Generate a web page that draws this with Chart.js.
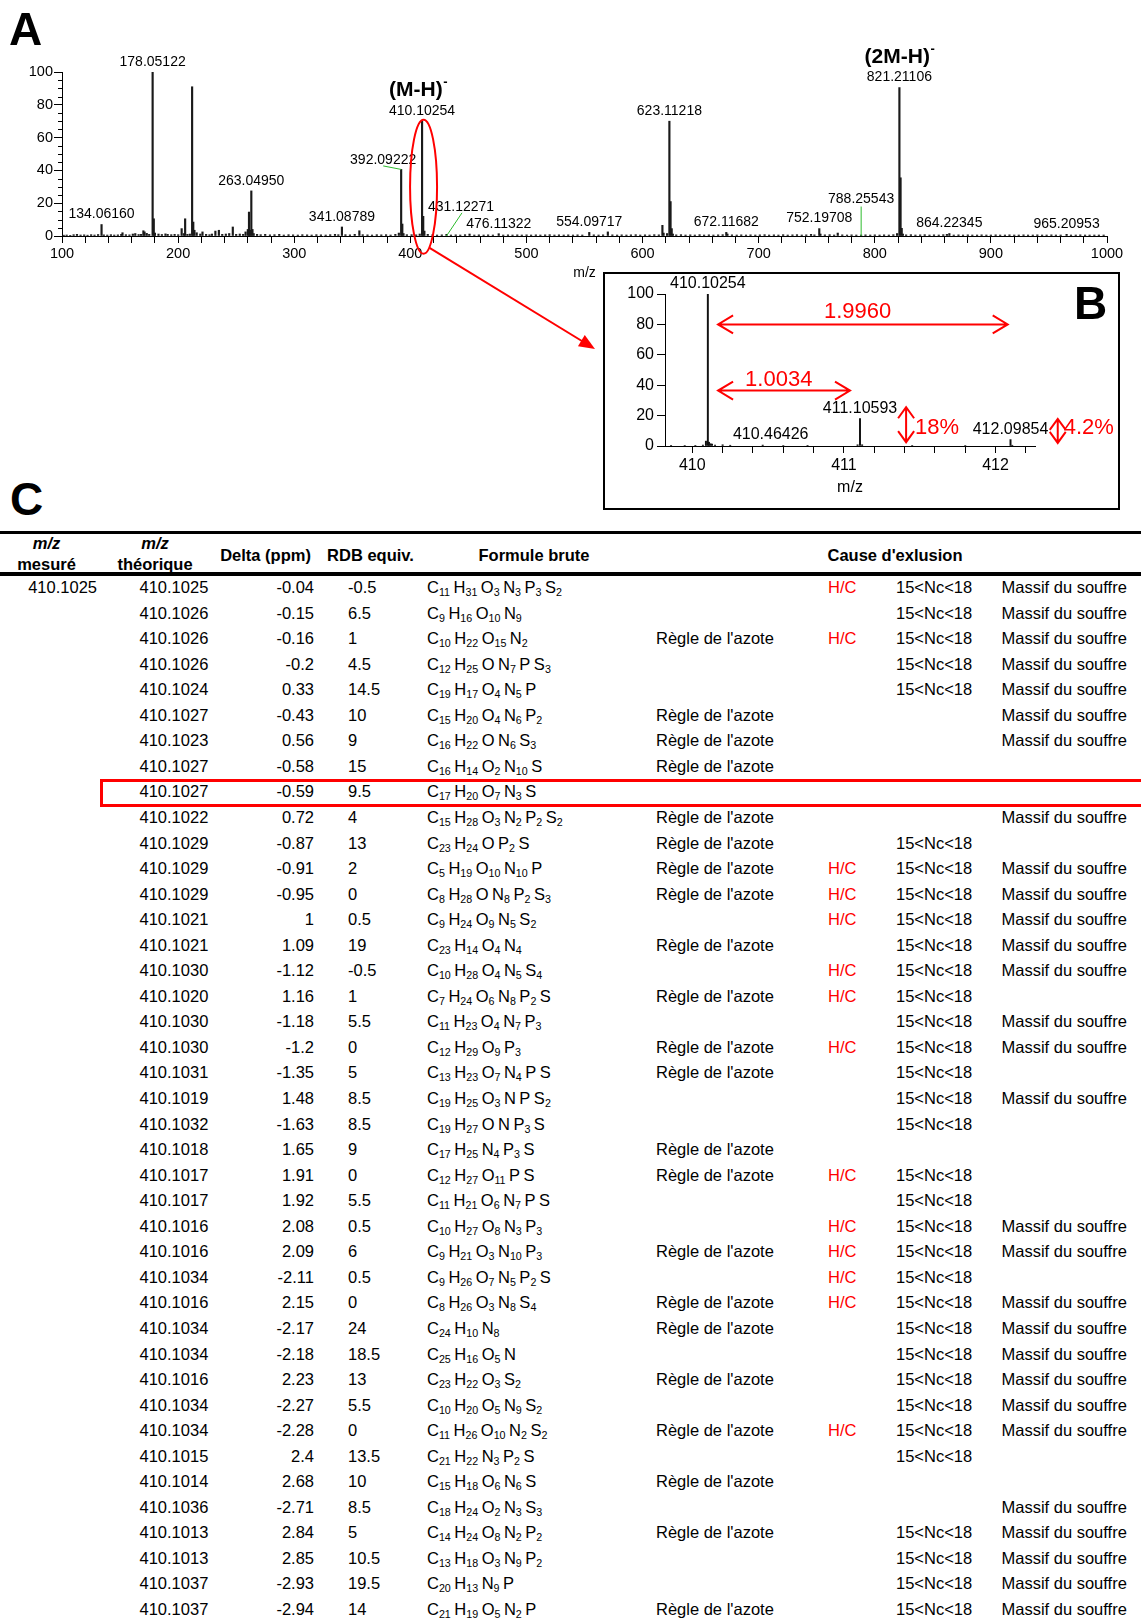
<!DOCTYPE html>
<html lang="fr">
<head>
<meta charset="utf-8">
<title>Spectre de masse - formules brutes</title>
<script src="https://cdn.jsdelivr.net/npm/chart.js@4.4.1/dist/chart.umd.min.js"></script>
<style>
  body { margin: 0; background: #fff; }
  #page { position: relative; width: 1141px; height: 1620px; overflow: hidden; font-family: "Liberation Sans", Arial, sans-serif; color: #000; }
  .abs { position: absolute; }
  .letter { position: absolute; font-weight: bold; font-size: 46px; line-height: 1; }
  #inset-box { left: 603px; top: 272px; width: 517px; height: 238px; border: 2px solid #000; box-sizing: border-box; background: #fff; }
  .rule { position: absolute; left: 0; width: 1141px; background: #000; }
  .head { position: absolute; font-weight: bold; font-size: 16.5px; text-align: center; white-space: nowrap; }
  .cell { position: absolute; font-size: 16.5px; white-space: nowrap; height: 26px; line-height: 26px; }
  .red { color: #f00; }
  .el { margin-right: 3.5px; }
  .el:last-child { margin-right: 0; }
  .el sub { font-size: 10.7px; vertical-align: -2.7px; line-height: 0; }
  #highlight { position: absolute; left: 100px; top: 779px; width: 1100px; height: 28px; border: 3px solid #f00; box-sizing: border-box; }
</style>
</head>
<body>
<div id="page">
  <canvas id="spectrum" class="abs" width="1141" height="360" style="left:0;top:0;width:1141px;height:360px"></canvas>
  <div id="inset-box" class="abs"></div>
  <canvas id="inset" class="abs" width="517" height="238" style="left:603px;top:272px;width:517px;height:238px"></canvas>
  <div class="letter" style="left:9px;top:6px">A</div>
  <div class="letter" style="left:1074px;top:280px">B</div>
  <div class="letter" style="left:10px;top:476px">C</div>
  <div id="table"></div>
</div>
<script>
var FONT = '"Liberation Sans", Arial, sans-serif';

// A - full scan spectrum (m/z, relative intensity %)
var spectrumMz = [
  101.5, 104.0, 107.1, 110.0, 112.9, 116.0, 119.1, 122.0, 125.1, 128.0,
  131.1, 134.0616, 136.0, 139.0, 142.1, 145.0, 148.1, 151.0, 152.1, 155.0,
  158.1, 161.0, 163.1, 166.0, 168.1, 170.1, 171.1, 173.0, 175.1, 178.05122,
  179.05, 180.05, 183.1, 186.0, 189.1, 191.0, 194.1, 197.0, 200.1, 203.05,
  205.0, 206.05, 208.0, 210.1, 212.06, 213.06, 214.06, 216.0, 219.1, 221.0,
  224.1, 227.0, 229.1, 232.1, 235.1, 238.0, 241.1, 244.0, 247.1, 250.0,
  253.1, 256.0, 258.1, 260.05, 261.05, 262.05, 263.0495, 264.05, 265.1, 268.0,
  271.1, 275.0, 279.1, 283.0, 287.1, 291.0, 295.1, 299.0, 303.1, 307.0,
  311.1, 315.0, 319.1, 323.0, 327.1, 331.0, 335.1, 338.0, 341.08789, 344.1,
  348.0, 352.1, 356.1, 359.0, 363.1, 367.0, 371.1, 375.0, 379.1, 383.0,
  387.1, 390.1, 392.09222, 393.09, 394.1, 397.0, 401.1, 405.0, 408.1, 410.10254,
  411.1, 412.1, 415.0, 419.1, 423.0, 427.1, 431.12271, 435.0, 439.1, 443.0,
  447.1, 451.0, 455.1, 459.0, 463.1, 467.0, 471.1, 476.11322, 480.0, 484.1,
  488.0, 492.1, 496.0, 500.1, 504.0, 508.1, 512.0, 516.1, 520.0, 524.1,
  528.0, 532.1, 536.0, 540.1, 544.0, 548.1, 554.09717, 558.0, 562.1, 566.0,
  570.1, 574.0, 578.1, 582.0, 586.1, 590.0, 594.1, 598.0, 602.1, 606.0,
  610.1, 614.0, 617.1, 618.1, 621.1, 623.11218, 624.11, 625.11, 626.1, 629.0,
  633.1, 637.0, 641.1, 645.0, 649.1, 653.0, 657.1, 661.0, 665.1, 669.0,
  672.11682, 673.1, 677.0, 681.1, 685.0, 689.1, 693.0, 697.1, 701.0, 705.1,
  709.0, 713.1, 717.0, 721.1, 725.0, 729.1, 733.0, 737.1, 741.0, 745.1,
  748.0, 752.19708, 753.2, 757.0, 761.1, 765.0, 768.1, 772.0, 776.1, 780.0,
  784.1, 788.25543, 792.0, 796.1, 800.0, 804.1, 808.0, 812.1, 816.0, 819.2,
  821.21106, 822.21, 823.21, 824.2, 827.0, 831.1, 835.0, 839.1, 843.0, 847.1,
  851.0, 855.1, 859.0, 862.1, 864.22345, 868.0, 872.1, 876.0, 880.1, 884.0,
  888.1, 892.0, 896.1, 900.0, 904.1, 908.0, 912.1, 916.0, 920.1, 924.0,
  928.1, 932.0, 936.1, 940.0, 944.1, 948.0, 952.1, 956.0, 960.1, 965.20953,
  969.0, 973.1, 977.0, 981.1, 985.0, 989.1, 993.0, 997.1
];
var spectrumInt = [
  0.5, 0.6, 0.4, 0.8, 1.0, 0.6, 0.7, 0.5, 0.8, 0.6,
  0.9, 7.0, 0.7, 0.6, 0.8, 0.6, 0.7, 1.0, 2.0, 0.8,
  0.7, 1.2, 1.5, 0.9, 1.0, 3.2, 2.5, 1.6, 1.0, 100,
  10.5, 1.8, 1.2, 0.9, 1.3, 1.0, 0.8, 1.0, 0.8, 4.5,
  1.5, 10.5, 1.0, 1.2, 91, 8.5, 3.5, 2.0, 1.2, 2.5,
  1.0, 0.8, 1.2, 3.0, 3.5, 1.0, 1.2, 1.5, 5.5, 1.0,
  1.2, 1.0, 2.5, 4.0, 14.6, 3.5, 27.5, 4.0, 1.5, 1.0,
  0.8, 1.0, 0.7, 0.8, 1.0, 0.6, 0.8, 0.7, 0.6, 0.8,
  0.7, 0.6, 0.8, 0.7, 0.6, 0.8, 1.0, 0.8, 5.5, 0.8,
  0.7, 1.0, 3.2, 0.8, 0.7, 0.6, 0.8, 0.7, 0.8, 0.6,
  1.0, 1.8, 40.6, 7.3, 1.5, 0.8, 0.8, 0.7, 1.2, 70,
  12, 3.0, 1.0, 0.8, 0.6, 0.7, 1.0, 0.6, 0.7, 0.6,
  0.8, 1.2, 0.6, 0.7, 0.6, 0.7, 0.6, 1.4, 0.6, 0.7,
  0.6, 0.7, 0.6, 0.7, 0.6, 0.7, 0.6, 0.7, 0.8, 0.6,
  0.7, 0.6, 0.7, 0.6, 0.7, 0.6, 2.2, 0.7, 0.6, 0.7,
  2.5, 0.7, 0.6, 0.7, 0.6, 0.7, 0.8, 0.6, 0.7, 0.6,
  0.8, 0.7, 6.5, 1.8, 1.5, 70, 21, 4.5, 1.2, 0.7,
  0.8, 0.6, 0.7, 0.6, 0.8, 0.6, 0.7, 0.6, 0.7, 0.8,
  2.2, 1.2, 0.7, 0.6, 0.7, 0.6, 0.7, 0.6, 0.7, 0.8,
  0.6, 0.7, 0.6, 0.8, 0.6, 0.7, 0.8, 0.6, 0.7, 1.0,
  0.7, 4.5, 1.2, 0.7, 0.8, 0.6, 1.8, 0.7, 0.6, 0.7,
  0.6, 0.6, 0.7, 0.6, 0.7, 0.6, 0.7, 0.6, 0.8, 1.5,
  90.5, 35.5, 4.7, 1.2, 0.7, 0.8, 0.6, 0.7, 0.8, 0.6,
  0.7, 0.6, 0.8, 1.0, 1.5, 0.6, 0.7, 0.6, 0.7, 0.6,
  0.6, 0.7, 0.6, 0.6, 0.7, 0.6, 0.6, 0.7, 0.6, 0.6,
  0.7, 0.6, 0.6, 0.7, 0.6, 0.6, 0.7, 0.6, 0.6, 1.0,
  0.6, 0.6, 0.7, 0.6, 0.6, 0.6, 0.6, 0.6
];
var labelledPeaks = [134.0616, 178.05122, 263.0495, 341.08789, 392.09222, 410.10254, 431.12271, 476.11322,
  554.09717, 623.11218, 672.11682, 752.19708, 788.25543, 821.21106, 864.22345, 965.20953];
var ionLabels = [
  { mz: 410.10254, text: '(M-H)', dx: -4 },
  { mz: 821.21106, text: '(2M-H)', dx: 0 }
];

// B - zoom on the (M-H)- isotopic cluster
var insetMz = [409.86, 409.95, 410.02, 410.07, 410.09, 410.10254, 410.11, 410.12, 410.13, 410.15, 410.2,
  410.25, 410.46426, 410.6, 410.76, 411.09, 411.10593, 411.12, 411.45, 411.8, 412.09854, 412.11];
var insetInt = [0.4, 0.3, 0.4, 0.6, 3.2, 100, 2.5, 1.5, 1.2, 0.6, 0.8,
  0.5, 0.6, 0.3, 0.4, 0.8, 18, 0.8, 0.3, 0.3, 4.2, 0.5];
var insetLabels = [410.10254, 410.46426, 411.10593, 412.09854];

// C - candidate formulas for m/z 410.1025
var mzMeasured = '410.1025';
var mzTheo = [410.1025, 410.1026, 410.1026, 410.1026, 410.1024, 410.1027, 410.1023, 410.1027, 410.1027, 410.1022,
  410.1029, 410.1029, 410.1029, 410.1021, 410.1021, 410.1030, 410.1020, 410.1030, 410.1030, 410.1031,
  410.1019, 410.1032, 410.1018, 410.1017, 410.1017, 410.1016, 410.1016, 410.1034, 410.1016, 410.1034,
  410.1034, 410.1016, 410.1034, 410.1034, 410.1015, 410.1014, 410.1036, 410.1013, 410.1013, 410.1037,
  410.1037];
var deltaPpm = [-0.04, -0.15, -0.16, -0.2, 0.33, -0.43, 0.56, -0.58, -0.59, 0.72,
  -0.87, -0.91, -0.95, 1, 1.09, -1.12, 1.16, -1.18, -1.2, -1.35,
  1.48, -1.63, 1.65, 1.91, 1.92, 2.08, 2.09, -2.11, 2.15, -2.17,
  -2.18, 2.23, -2.27, -2.28, 2.4, 2.68, -2.71, 2.84, 2.85, -2.93,
  -2.94];
var rdbEquiv = [-0.5, 6.5, 1, 4.5, 14.5, 10, 9, 15, 9.5, 4,
  13, 2, 0, 0.5, 19, -0.5, 1, 5.5, 0, 5,
  8.5, 8.5, 9, 0, 5.5, 0.5, 6, 0.5, 0, 24,
  18.5, 13, 5.5, 0, 13.5, 10, 8.5, 5, 10.5, 19.5,
  14];
var formulas = ['C11H31O3N3P3S2', 'C9H16O10N9', 'C10H22O15N2', 'C12H25ON7PS3', 'C19H17O4N5P',
  'C15H20O4N6P2', 'C16H22ON6S3', 'C16H14O2N10S', 'C17H20O7N3S', 'C15H28O3N2P2S2',
  'C23H24OP2S', 'C5H19O10N10P', 'C8H28ON8P2S3', 'C9H24O9N5S2', 'C23H14O4N4',
  'C10H28O4N5S4', 'C7H24O6N8P2S', 'C11H23O4N7P3', 'C12H29O9P3', 'C13H23O7N4PS',
  'C19H25O3NPS2', 'C19H27ONP3S', 'C17H25N4P3S', 'C12H27O11PS', 'C11H21O6N7PS',
  'C10H27O8N3P3', 'C9H21O3N10P3', 'C9H26O7N5P2S', 'C8H26O3N8S4', 'C24H10N8',
  'C25H16O5N', 'C23H22O3S2', 'C10H20O5N9S2', 'C11H26O10N2S2', 'C21H22N3P2S',
  'C15H18O6N6S', 'C18H24O2N3S3', 'C14H24O8N2P2', 'C13H18O3N9P2', 'C20H13N9P',
  'C21H19O5N2P'];
var azoteRule = [0,0,1,0,0,1,1,1,0,1, 1,1,1,0,1,0,1,0,1,1, 0,0,1,1,0,0,1,0,1,1, 0,1,0,1,0,1,0,1,0,0, 1];
var hcRule = [1,0,1,0,0,0,0,0,0,0, 0,1,1,1,0,1,1,0,1,0, 0,0,0,1,0,1,1,1,1,0, 0,0,0,1,0,0,0,0,0,0, 0];
var ncRule = [1,1,1,1,1,0,0,0,0,0, 1,1,1,1,1,1,1,1,1,1, 1,1,0,1,1,1,1,1,1,1, 1,1,1,1,1,0,0,1,1,1, 1];
var sulfurRule = [1,1,1,1,1,1,1,0,0,1, 0,1,1,1,1,1,0,1,1,0, 1,0,0,0,0,1,1,0,1,1, 1,1,1,1,0,0,1,1,1,1, 1];
var selectedRow = 8;

Chart.defaults.font.family = FONT;
Chart.defaults.color = '#000';

function pairs(xs, ys) {
  return xs.map(function (x, i) { return { x: x, y: ys[i] }; });
}

function heightOf(xs, ys, mz) {
  var i = xs.indexOf(mz);
  return i < 0 ? 0 : ys[i];
}

function drawArrowHead(ctx, x1, y1, x2, y2, len, half) {
  var a = Math.atan2(y2 - y1, x2 - x1);
  ctx.beginPath();
  ctx.moveTo(x2, y2);
  ctx.lineTo(x2 - len * Math.cos(a) + half * Math.sin(a), y2 - len * Math.sin(a) - half * Math.cos(a));
  ctx.lineTo(x2 - len * Math.cos(a) - half * Math.sin(a), y2 - len * Math.sin(a) + half * Math.cos(a));
  ctx.closePath();
  ctx.fill();
}

var spectrumDecor = {
  id: 'spectrumDecor',
  afterDraw: function (chart) {
    var ctx = chart.ctx, xs = chart.scales.x, ys = chart.scales.y, area = chart.chartArea;
    var base = ys.getPixelForValue(0);
    ctx.save();

    // minor ticks of the intensity axis
    ctx.strokeStyle = '#000';
    ctx.lineWidth = 1;
    for (var v = 5; v < 100; v += 5) {
      if (v % 20 === 0) continue;
      var ty = Math.round(ys.getPixelForValue(v)) + 0.5;
      ctx.beginPath();
      ctx.moveTo(area.left - 4, ty);
      ctx.lineTo(area.left, ty);
      ctx.stroke();
    }

    // m/z labels over the peaks
    var special = {
      '392.09222': { dx: -18, dy: -9.5, link: 'top', lx: 0, ly: 6 },
      '431.12271': { dx: 14.5, dy: -27.5, link: 'base', lx: 1, ly: 6 },
      '788.25543': { dx: 0, dy: -35.5, link: 'base', lx: 0, ly: 7 }
    };
    ctx.font = '14px ' + FONT;
    ctx.textAlign = 'center';
    ctx.textBaseline = 'middle';
    labelledPeaks.forEach(function (mz) {
      var px = xs.getPixelForValue(mz);
      var py = ys.getPixelForValue(heightOf(spectrumMz, spectrumInt, mz));
      var s = special[String(mz)] || { dx: 0, dy: -10 };
      var lx = px + s.dx, ly = py + s.dy;
      if (s.link) {
        ctx.strokeStyle = '#2dbb2d';
        ctx.beginPath();
        ctx.moveTo(px, s.link === 'base' ? base : py);
        ctx.lineTo(lx + s.lx, ly + s.ly);
        ctx.stroke();
      }
      ctx.fillStyle = '#000';
      ctx.fillText(mz.toFixed(5), lx, ly);
    });

    // ion labels (M-H)- and (2M-H)-
    ionLabels.forEach(function (ion) {
      var px = xs.getPixelForValue(ion.mz) + ion.dx;
      var py = ys.getPixelForValue(heightOf(spectrumMz, spectrumInt, ion.mz)) - 30.5;
      ctx.font = 'bold 21px ' + FONT;
      var w = ctx.measureText(ion.text).width;
      ctx.font = 'bold 13px ' + FONT;
      var sw = ctx.measureText('-').width;
      var x0 = px - (w + sw) / 2;
      ctx.textAlign = 'left';
      ctx.font = 'bold 21px ' + FONT;
      ctx.fillText(ion.text, x0, py);
      ctx.font = 'bold 13px ' + FONT;
      ctx.fillText('-', x0 + w + 0.5, py - 8);
    });

    // red ellipse on the (M-H)- cluster and arrow towards panel B
    var ex = xs.getPixelForValue(410.10254) + 1.5, ey = ys.getPixelForValue(30);
    ctx.strokeStyle = '#f00';
    ctx.fillStyle = '#f00';
    ctx.lineWidth = 2;
    ctx.beginPath();
    ctx.ellipse(ex, ey, 13.5, 67, 0, 0, Math.PI * 2);
    ctx.stroke();
    var sx = ex + 6, sy = ey + 61, tx = 595, ty = 349;
    var a = Math.atan2(ty - sy, tx - sx);
    ctx.beginPath();
    ctx.moveTo(sx, sy);
    ctx.lineTo(tx - 12 * Math.cos(a), ty - 12 * Math.sin(a));
    ctx.stroke();
    drawArrowHead(ctx, sx, sy, tx, ty, 16, 6.5);
    ctx.restore();
  }
};

var insetDecor = {
  id: 'insetDecor',
  afterDraw: function (chart) {
    var ctx = chart.ctx, xs = chart.scales.x, ys = chart.scales.y;
    ctx.save();
    ctx.font = '16px ' + FONT;
    ctx.textAlign = 'center';
    ctx.textBaseline = 'middle';
    ctx.fillStyle = '#000';
    insetLabels.forEach(function (mz) {
      var px = xs.getPixelForValue(mz);
      var py = ys.getPixelForValue(heightOf(insetMz, insetInt, mz));
      var dx = mz === 410.46426 ? 8 : 0;
      ctx.fillText(mz.toFixed(5), px + dx, py - 10);
    });

    var mono = insetLabels[0], m1 = insetLabels[2], m2 = insetLabels[3];
    ctx.strokeStyle = '#f00';
    ctx.fillStyle = '#f00';
    ctx.lineWidth = 2;
    ctx.font = '22px ' + FONT;

    function hArrow(v1, v2, level) {
      var x1 = xs.getPixelForValue(v1), x2 = xs.getPixelForValue(v2), y = ys.getPixelForValue(level);
      ctx.beginPath();
      ctx.moveTo(x1, y); ctx.lineTo(x2, y);
      ctx.moveTo(x1 + 15, y - 9); ctx.lineTo(x1, y); ctx.lineTo(x1 + 15, y + 9);
      ctx.moveTo(x2 - 15, y - 9); ctx.lineTo(x2, y); ctx.lineTo(x2 - 15, y + 9);
      ctx.stroke();
    }
    function vArrow(v, top, bottom) {
      var x = xs.getPixelForValue(v), y1 = ys.getPixelForValue(top), y2 = ys.getPixelForValue(bottom);
      ctx.beginPath();
      ctx.moveTo(x, y1); ctx.lineTo(x, y2);
      ctx.moveTo(x - 8, y1 + 11); ctx.lineTo(x, y1); ctx.lineTo(x + 8, y1 + 11);
      ctx.moveTo(x - 8, y2 - 11); ctx.lineTo(x, y2); ctx.lineTo(x + 8, y2 - 11);
      ctx.stroke();
    }

    hArrow(410.17, 412.08, 80);
    ctx.fillText((m2 - mono).toFixed(4), xs.getPixelForValue(411.09), ys.getPixelForValue(88));
    hArrow(410.17, 411.04, 36.5);
    ctx.fillText((m1 - mono).toFixed(4), xs.getPixelForValue(410.57), ys.getPixelForValue(43.5));

    ctx.textAlign = 'left';
    vArrow(411.41, 25.5, 2.5);
    ctx.fillText(heightOf(insetMz, insetInt, m1) + '%', xs.getPixelForValue(411.41) + 9, ys.getPixelForValue(11.8));
    vArrow(412.41, 17.8, 2);
    ctx.fillText(heightOf(insetMz, insetInt, m2) + '%', xs.getPixelForValue(412.41) + 6, ys.getPixelForValue(11.8));
    ctx.restore();
  }
};

function drawSpectrum() {
  new Chart(document.getElementById('spectrum'), {
    type: 'bar',
    data: {
      datasets: [{
        data: pairs(spectrumMz, spectrumInt),
        backgroundColor: '#1a1a1a',
        barThickness: 1.5
      }]
    },
    options: {
      responsive: false,
      animation: false,
      events: [],
      layout: { padding: { left: 0, right: 34, top: 72, bottom: 70 } },
      plugins: { legend: { display: false }, tooltip: { enabled: false } },
      scales: {
        x: {
          type: 'linear', min: 100, max: 1000, offset: false,
          afterFit: function (s) { s.height = 54; },
          grid: { offset: false, drawOnChartArea: false, color: '#000', tickLength: 7 },
          border: { color: '#000' },
          ticks: {
            stepSize: 20, autoSkip: false, maxRotation: 0, padding: 2,
            font: { size: 14.5 },
            callback: function (v) { return v % 100 === 0 ? String(v) : ''; }
          },
          title: { display: true, text: 'm/z', font: { size: 14 }, padding: { top: 0, bottom: 8.6 } }
        },
        y: {
          min: 0, max: 100,
          afterFit: function (s) { s.width = 62; },
          grid: { drawOnChartArea: false, color: '#000', tickLength: 8 },
          border: { color: '#000' },
          ticks: { stepSize: 20, padding: 1, font: { size: 14.5 } }
        }
      }
    },
    plugins: [spectrumDecor]
  });
}

function drawInset() {
  new Chart(document.getElementById('inset'), {
    type: 'bar',
    data: {
      datasets: [{
        data: pairs(insetMz, insetInt),
        backgroundColor: '#111',
        barThickness: 1.3
      }]
    },
    options: {
      responsive: false,
      animation: false,
      events: [],
      layout: { padding: { left: 0, right: 85, top: 22, bottom: 0 } },
      plugins: { legend: { display: false }, tooltip: { enabled: false } },
      scales: {
        x: {
          type: 'linear', min: 409.82, max: 412.26, offset: false,
          afterFit: function (s) { s.height = 64; },
          grid: { offset: false, drawOnChartArea: false, color: '#000', tickLength: 7 },
          border: { color: '#000' },
          ticks: {
            stepSize: 0.2, includeBounds: false, autoSkip: false, maxRotation: 0, padding: 3,
            font: { size: 16 },
            callback: function (v) { return Math.abs(v - Math.round(v)) < 1e-6 ? String(Math.round(v)) : ''; }
          },
          title: { display: true, text: 'm/z', font: { size: 16 }, padding: { top: 0, bottom: 12.4 } }
        },
        y: {
          min: 0, max: 100,
          afterFit: function (s) { s.width = 62; },
          grid: { drawOnChartArea: false, color: '#000', tickLength: 8 },
          border: { color: '#000' },
          ticks: { stepSize: 20, padding: 3, font: { size: 16 } }
        }
      }
    },
    plugins: [insetDecor]
  });
}

function formulaHtml(f) {
  return f.match(/[A-Z][a-z]?\d*/g).map(function (part) {
    var m = part.match(/([A-Z][a-z]?)(\d*)/);
    return '<span class="el">' + m[1] + (m[2] ? '<sub>' + m[2] + '</sub>' : '') + '</span>';
  }).join('');
}

function drawTable() {
  var ROW0 = 587, ROW_H = 25.55;
  var html = '';
  html += '<div class="rule" style="top:531px;height:3px"></div>';
  html += '<div class="rule" style="top:572px;height:4px"></div>';

  function head(center, top, lh, content) {
    return '<div class="head" style="left:' + (center - 100) + 'px;width:200px;top:' + top +
      'px;line-height:' + lh + 'px">' + content + '</div>';
  }
  html += head(46.5, 533, 21.4, '<i>m/z</i><br>mesuré');
  html += head(155, 533, 21.4, '<i>m/z</i><br>théorique');
  html += head(265.5, 542, 26, 'Delta (ppm)');
  html += head(370.5, 542, 26, 'RDB equiv.');
  html += head(534, 542, 26, 'Formule brute');
  html += head(895, 542, 26, 'Cause d\'exlusion');

  function cell(style, content, cls) {
    return '<div class="cell' + (cls ? ' ' + cls : '') + '" style="' + style + '">' + content + '</div>';
  }
  for (var i = 0; i < mzTheo.length; i++) {
    var top = 'top:' + (ROW0 + i * ROW_H - 13).toFixed(2) + 'px;';
    if (i === 0) html += cell(top + 'left:0;width:97px;text-align:right', mzMeasured);
    html += cell(top + 'left:139.5px', mzTheo[i].toFixed(4));
    html += cell(top + 'left:214px;width:100px;text-align:right', String(deltaPpm[i]));
    html += cell(top + 'left:348px', String(rdbEquiv[i]));
    html += cell(top + 'left:427px', formulaHtml(formulas[i]));
    if (azoteRule[i]) html += cell(top + 'left:656px', 'Règle de l\'azote');
    if (hcRule[i]) html += cell(top + 'left:828px', 'H/C', 'red');
    if (ncRule[i]) html += cell(top + 'left:896px', '15&lt;Nc&lt;18');
    if (sulfurRule[i]) html += cell(top + 'left:1001.5px', 'Massif du souffre');
  }
  var hy = ROW0 + selectedRow * ROW_H - 12.5;
  html += '<div id="highlight" style="top:' + hy.toFixed(1) + 'px"></div>';
  document.getElementById('table').innerHTML = html;
}

drawSpectrum();
drawInset();
drawTable();
</script>
</body>
</html>
